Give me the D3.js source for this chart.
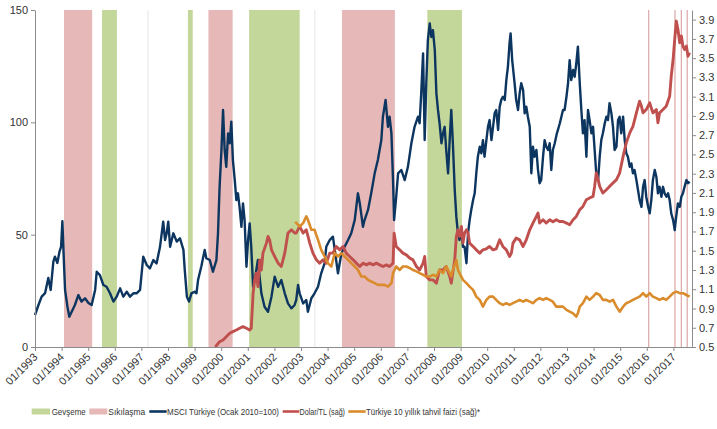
<!DOCTYPE html>
<html><head><meta charset="utf-8">
<script src="https://cdn.jsdelivr.net/npm/d3@7"></script>
<style>
body{margin:0;background:#fff}
svg{display:block}
text{font-family:"Liberation Sans",Arial,sans-serif}
</style>
</head><body>
<svg id="chart" width="717" height="429"></svg>
<script>
// ---------- DATA ----------
const yearTicks = [1993,1994,1995,1996,1997,1998,1999,2000,2001,2002,2003,2004,2005,2006,2007,2008,2009,2010,2011,2012,2013,2014,2015,2016,2017];
const xTickLabels = ["01/1993","01/1994","01/1995","01/1996","01/1997","01/1998","01/1999","01/2000","01/2001","01/2002","01/2003","01/2004","01/2005","01/2006","01/2007","01/2008","01/2009","01/2010","01/2011","01/2012","01/2013","01/2014","01/2015","01/2016","01/2017"];
const leftTicks = [0, 50, 100, 150];
const rightTicks = [0.5,0.7,0.9,1.1,1.3,1.5,1.7,1.9,2.1,2.3,2.5,2.7,2.9,3.1,3.3,3.5,3.7,3.9];

// policy periods (decimal years)
const easingStart = [1995.52, 1998.75, 2001.05, 2007.75];
const easingEnd   = [1996.08, 1998.93, 2002.95, 2009.05];
const tighteningStart = [1994.09, 1999.52, 2004.54];
const tighteningEnd   = [1995.15, 2000.43, 2006.53];
const tighteningSingle = [2016.07, 2017.06, 2017.30, 2017.52];
const minorMarks = [1997.25, 2003.52];

// MSCI Türkiye (Ocak 2010 = 100), left axis
const msciT = [1993.00,1993.13,1993.25,1993.38,1993.50,1993.59,1993.69,1993.75,1993.84,1993.92,1993.98,1994.03,1994.07,1994.13,1994.22,1994.29,1994.38,1994.50,1994.63,1994.75,1994.88,1995.01,1995.13,1995.26,1995.32,1995.44,1995.57,1995.69,1995.82,1995.95,1996.07,1996.20,1996.32,1996.45,1996.57,1996.70,1996.82,1996.95,1997.07,1997.20,1997.32,1997.45,1997.57,1997.70,1997.82,1997.89,1997.95,1998.01,1998.08,1998.20,1998.33,1998.45,1998.58,1998.63,1998.71,1998.79,1998.88,1999.00,1999.07,1999.13,1999.25,1999.38,1999.44,1999.57,1999.69,1999.82,1999.88,1999.94,2000.01,2000.07,2000.13,2000.19,2000.26,2000.32,2000.38,2000.44,2000.51,2000.57,2000.63,2000.69,2000.76,2000.82,2000.88,2000.95,2001.01,2001.07,2001.13,2001.20,2001.26,2001.38,2001.51,2001.63,2001.76,2001.89,2002.01,2002.14,2002.26,2002.39,2002.51,2002.64,2002.76,2002.82,2002.89,2002.95,2003.08,2003.20,2003.26,2003.39,2003.51,2003.64,2003.76,2003.89,2003.95,2004.08,2004.20,2004.27,2004.39,2004.52,2004.64,2004.77,2004.89,2005.02,2005.14,2005.21,2005.33,2005.39,2005.52,2005.64,2005.77,2005.89,2006.02,2006.08,2006.18,2006.27,2006.33,2006.40,2006.46,2006.50,2006.58,2006.65,2006.77,2006.90,2007.02,2007.15,2007.27,2007.40,2007.46,2007.52,2007.59,2007.65,2007.71,2007.77,2007.84,2007.90,2007.96,2008.03,2008.09,2008.15,2008.21,2008.28,2008.34,2008.40,2008.46,2008.53,2008.59,2008.65,2008.71,2008.78,2008.84,2008.90,2008.96,2009.03,2009.09,2009.15,2009.22,2009.28,2009.34,2009.40,2009.47,2009.53,2009.59,2009.65,2009.72,2009.78,2009.84,2009.90,2009.97,2010.03,2010.09,2010.16,2010.22,2010.28,2010.34,2010.41,2010.47,2010.53,2010.59,2010.66,2010.72,2010.78,2010.84,2010.88,2010.94,2011.03,2011.09,2011.16,2011.22,2011.28,2011.35,2011.41,2011.47,2011.53,2011.60,2011.66,2011.72,2011.78,2011.85,2011.91,2011.97,2012.03,2012.10,2012.16,2012.22,2012.29,2012.35,2012.41,2012.47,2012.54,2012.62,2012.66,2012.73,2012.79,2012.85,2012.91,2012.98,2013.04,2013.10,2013.16,2013.23,2013.29,2013.35,2013.41,2013.48,2013.54,2013.60,2013.66,2013.73,2013.79,2013.85,2013.92,2013.98,2014.04,2014.10,2014.17,2014.23,2014.29,2014.35,2014.42,2014.48,2014.54,2014.60,2014.67,2014.73,2014.79,2014.86,2014.92,2014.98,2015.04,2015.11,2015.17,2015.23,2015.29,2015.36,2015.42,2015.48,2015.54,2015.61,2015.67,2015.73,2015.80,2015.86,2015.92,2015.98,2016.05,2016.11,2016.17,2016.23,2016.30,2016.36,2016.42,2016.48,2016.55,2016.61,2016.67,2016.74,2016.80,2016.86,2016.92,2016.99,2017.05,2017.09,2017.17,2017.24,2017.30,2017.36,2017.42,2017.49,2017.55,2017.61];
const msciV = [14.2,18.7,22.4,24.0,30.7,25.4,38.0,40.2,37.4,42.4,44.6,56.0,43.0,25.4,17.9,13.5,15.7,18.7,23.1,20.2,21.7,19.6,18.7,25.4,33.5,32.0,27.6,26.8,23.9,20.2,22.4,26.1,22.4,24.6,22.4,23.9,23.9,25.4,40.2,36.5,35.0,38.7,37.2,44.6,55.8,47.6,50.6,55.8,44.6,50.6,46.9,48.4,43.2,34.3,22.4,20.2,23.9,24.6,23.9,29.8,35.7,43.2,39.5,38.7,33.5,38.7,50.6,71.3,87.7,105.5,87.7,80.2,95.1,90.7,100.3,83.2,74.3,65.4,68.4,62.4,53.5,63.9,56.5,35.7,47.6,55.0,44.6,26.8,29.8,38.7,23.9,17.9,15.7,22.4,31.3,26.8,29.8,23.9,19.4,17.2,18.7,20.9,27.6,23.9,19.4,20.9,15.7,21.7,23.9,26.8,32.8,37.3,44.6,47.6,49.1,43.2,32.8,41.7,44.6,47.6,50.6,56.5,68.4,64.0,53.5,56.5,61.0,68.4,77.3,83.2,92.1,102.5,110.0,98.0,102.5,95.1,74.3,56.5,66.9,77.3,78.8,74.3,80.2,90.7,98.0,102.5,99.6,112.9,130.7,92.1,117.4,136.6,144.0,138.0,141.0,132.2,112.9,105.5,99.6,90.7,95.1,98.0,87.7,77.3,92.1,105.5,90.7,69.9,58.0,50.6,47.6,52.0,44.6,44.6,37.3,50.6,56.5,61.0,65.4,68.4,77.3,84.7,89.2,86.2,92.1,84.7,92.1,98.0,101.0,92.1,98.0,104.0,105.5,96.6,107.0,110.0,111.4,110.0,118.8,124.8,135.2,139.6,127.7,117.4,110.0,105.5,112.9,117.4,114.4,104.0,107.0,102.5,98.0,77.3,89.2,84.7,87.7,78.8,72.9,74.3,84.7,92.1,89.2,87.7,90.7,78.8,87.7,90.7,95.1,96.6,99.6,102.5,105.5,105.5,111.4,117.4,127.7,118.8,123.3,120.3,126.3,133.7,117.4,105.5,95.1,101.0,84.7,105.5,101.0,95.1,98.0,87.7,77.3,74.3,84.7,92.1,95.1,99.6,102.5,101.0,108.5,104.0,98.0,87.7,89.2,101.0,102.5,95.1,102.5,92.1,86.2,84.7,80.2,81.7,77.3,78.8,74.3,69.9,65.4,62.4,71.3,74.3,66.9,62.4,59.5,65.4,74.3,78.8,75.8,68.4,71.3,66.9,71.3,68.4,66.9,68.4,65.4,59.5,56.5,52.0,56.5,63.9,62.4,66.9,68.4,71.3,74.3,72.9,73.6];

// Dolar/TL (right axis)
const usdT = [1999.78,1999.94,2000.07,2000.19,2000.32,2000.44,2000.57,2000.69,2000.82,2000.95,2001.07,2001.13,2001.20,2001.26,2001.32,2001.38,2001.45,2001.51,2001.57,2001.70,2001.76,2001.82,2001.89,2002.01,2002.14,2002.26,2002.39,2002.51,2002.64,2002.76,2002.82,2002.95,2003.08,2003.20,2003.33,2003.45,2003.58,2003.70,2003.83,2003.95,2004.08,2004.20,2004.33,2004.45,2004.58,2004.70,2004.83,2004.96,2005.08,2005.21,2005.33,2005.46,2005.58,2005.71,2005.83,2005.96,2006.08,2006.21,2006.33,2006.46,2006.50,2006.58,2006.71,2006.83,2006.96,2007.09,2007.21,2007.34,2007.46,2007.59,2007.65,2007.71,2007.84,2007.96,2008.09,2008.21,2008.34,2008.46,2008.59,2008.65,2008.78,2008.84,2008.90,2008.96,2009.03,2009.09,2009.15,2009.22,2009.28,2009.34,2009.47,2009.59,2009.72,2009.84,2009.97,2010.09,2010.22,2010.34,2010.47,2010.59,2010.72,2010.84,2010.91,2010.97,2011.09,2011.22,2011.35,2011.47,2011.60,2011.72,2011.85,2011.91,2011.97,2012.10,2012.22,2012.35,2012.47,2012.60,2012.72,2012.85,2012.98,2013.10,2013.23,2013.35,2013.48,2013.60,2013.73,2013.85,2013.98,2014.04,2014.10,2014.17,2014.23,2014.35,2014.48,2014.60,2014.73,2014.86,2014.98,2015.11,2015.23,2015.36,2015.48,2015.61,2015.73,2015.80,2015.86,2015.98,2016.11,2016.23,2016.36,2016.42,2016.48,2016.61,2016.73,2016.86,2016.92,2016.99,2017.05,2017.11,2017.17,2017.24,2017.30,2017.36,2017.42,2017.49,2017.55,2017.61];
const usdV = [0.50,0.555,0.573,0.607,0.643,0.66,0.677,0.695,0.711,0.695,0.677,0.695,1.06,1.197,1.267,1.127,1.405,1.30,1.475,1.579,1.648,1.613,1.509,1.44,1.371,1.336,1.475,1.683,1.717,1.683,1.683,1.752,1.683,1.717,1.579,1.475,1.405,1.371,1.405,1.371,1.475,1.475,1.544,1.509,1.544,1.475,1.44,1.405,1.371,1.336,1.371,1.353,1.371,1.353,1.371,1.353,1.336,1.353,1.336,1.371,1.683,1.544,1.509,1.475,1.457,1.423,1.405,1.336,1.30,1.371,1.44,1.232,1.197,1.197,1.163,1.30,1.30,1.336,1.232,1.163,1.405,1.648,1.717,1.648,1.752,1.579,1.683,1.717,1.683,1.579,1.544,1.509,1.475,1.509,1.52,1.544,1.509,1.52,1.613,1.544,1.509,1.44,1.475,1.579,1.631,1.613,1.544,1.613,1.717,1.787,1.856,1.891,1.787,1.822,1.787,1.822,1.80,1.822,1.804,1.804,1.787,1.77,1.822,1.856,1.926,1.96,2.03,2.047,2.064,2.168,2.307,2.238,2.168,2.099,2.134,2.168,2.203,2.238,2.307,2.48,2.62,2.724,2.792,2.932,3.053,3.0,2.932,2.966,3.036,2.932,2.966,2.828,2.932,2.966,3.0,3.105,3.313,3.486,3.695,3.885,3.80,3.66,3.73,3.625,3.59,3.625,3.52,3.556];

// Türkiye 10 yıllık tahvil faizi (right axis)
const bondT = [2002.78,2002.95,2003.08,2003.20,2003.26,2003.39,2003.51,2003.64,2003.76,2003.89,2004.01,2004.14,2004.27,2004.39,2004.52,2004.64,2004.77,2004.89,2005.02,2005.14,2005.27,2005.39,2005.52,2005.64,2005.77,2005.89,2006.02,2006.14,2006.27,2006.40,2006.46,2006.58,2006.71,2006.83,2006.96,2007.09,2007.21,2007.34,2007.46,2007.59,2007.71,2007.84,2007.96,2008.09,2008.21,2008.34,2008.46,2008.59,2008.65,2008.71,2008.84,2008.90,2008.96,2009.09,2009.22,2009.34,2009.47,2009.59,2009.72,2009.84,2009.97,2010.09,2010.22,2010.34,2010.47,2010.59,2010.72,2010.84,2010.97,2011.09,2011.22,2011.35,2011.47,2011.60,2011.72,2011.85,2011.97,2012.10,2012.22,2012.35,2012.47,2012.60,2012.72,2012.85,2012.98,2013.10,2013.23,2013.35,2013.41,2013.48,2013.60,2013.73,2013.85,2013.98,2014.10,2014.23,2014.35,2014.48,2014.60,2014.73,2014.86,2014.98,2015.11,2015.23,2015.36,2015.48,2015.61,2015.73,2015.86,2015.98,2016.11,2016.23,2016.36,2016.48,2016.61,2016.73,2016.86,2016.99,2017.11,2017.24,2017.36,2017.49,2017.61];
const bondV = [1.80,1.752,1.787,1.856,1.822,1.717,1.717,1.613,1.509,1.44,1.371,1.336,1.475,1.44,1.475,1.44,1.405,1.371,1.336,1.30,1.232,1.232,1.197,1.18,1.163,1.145,1.145,1.145,1.127,1.163,1.267,1.336,1.30,1.336,1.336,1.32,1.30,1.285,1.267,1.25,1.232,1.232,1.25,1.232,1.30,1.267,1.336,1.267,1.232,1.30,1.405,1.30,1.267,1.197,1.163,1.127,1.093,1.023,0.989,0.919,0.989,1.023,1.023,0.989,0.955,0.937,0.955,0.937,0.955,0.971,0.989,0.971,0.989,0.971,0.955,0.989,1.007,0.989,1.007,0.989,0.971,0.919,0.919,0.919,0.885,0.867,0.85,0.815,0.85,0.92,0.955,1.023,0.989,1.023,1.059,1.04,0.989,0.989,0.971,0.989,0.919,0.867,0.919,0.955,0.971,0.989,1.007,1.023,1.059,1.023,1.059,1.023,1.007,0.989,1.007,0.989,1.023,1.059,1.075,1.059,1.059,1.04,1.023];

// legend labels
const legendLabels = ["Gevşeme","Sıkılaşma","MSCI Türkiye (Ocak 2010=100)","Dolar/TL (sağ)","Türkiye 10 yıllık tahvil faizi (sağ)*"];

// ---------- CHART ----------
const C = {green:"#c4d79b", pink:"#e6b9b8", navy:"#0c355f", red:"#c0504d", orange:"#da8b2b", axis:"#8c8c8c", text:"#333333"};
const svg = d3.select("#chart");
const x = d3.scaleLinear().domain([1993, 2017.70]).range([35, 692]);
const yL = d3.scaleLinear().domain([0, 150]).range([347, 10]);
const yR = d3.scaleLinear().domain([0.5, 4.0]).range([347, 10]);

const bands = svg.append("g");
bands.selectAll("line.minor").data(minorMarks).join("line")
  .attr("x1", d => x(d)).attr("x2", d => x(d)).attr("y1", 10).attr("y2", 347)
  .attr("stroke", "#ebe4e4").attr("stroke-width", 1);
bands.selectAll("rect.e").data(easingStart).join("rect").attr("class","e")
  .attr("x", d => x(d)).attr("width", (d,i) => x(easingEnd[i]) - x(d))
  .attr("y", 10).attr("height", 337).attr("fill", C.green);
bands.selectAll("rect.t").data(tighteningStart).join("rect").attr("class","t")
  .attr("x", d => x(d)).attr("width", (d,i) => x(tighteningEnd[i]) - x(d))
  .attr("y", 10).attr("height", 337).attr("fill", C.pink);
bands.selectAll("line.ts").data(tighteningSingle).join("line").attr("class","ts")
  .attr("x1", d => x(d)).attr("x2", d => x(d)).attr("y1", 10).attr("y2", 347)
  .attr("stroke", "#deadad").attr("stroke-width", 1.3);

function drawLine(ts, vs, yScale, color, w) {
  const pts = ts.map((t, i) => [t, vs[i]]);
  svg.append("path").datum(pts)
    .attr("d", d3.line().x(d => x(d[0])).y(d => yScale(d[1])))
    .attr("fill", "none").attr("stroke", color).attr("stroke-width", w)
    .attr("stroke-linejoin", "round");
}
drawLine(msciT, msciV, yL, C.navy, 2.4);
drawLine(usdT, usdV, yR, C.red, 2.9);
drawLine(bondT, bondV, yR, C.orange, 2.6);

function styleAxis(g) {
  g.select(".domain").attr("stroke", C.axis);
  g.selectAll(".tick line").attr("stroke", C.axis);
  g.selectAll(".tick text").attr("fill", C.text).attr("font-size", "11px")
    .attr("font-family", "'Liberation Sans', Arial, sans-serif");
}
const gx = svg.append("g").attr("transform", "translate(0,347)")
  .call(d3.axisBottom(x).tickValues(yearTicks).tickFormat((d, i) => xTickLabels[i]).tickSize(4).tickSizeOuter(0));
styleAxis(gx);
gx.selectAll(".tick text").attr("text-anchor", "end").attr("dy", "0.35em")
  .attr("transform", "translate(0,8) rotate(-45)").attr("y", 0).attr("x", 0);

const gl = svg.append("g").attr("transform", "translate(35,0)")
  .call(d3.axisLeft(yL).tickValues(leftTicks).tickSize(4).tickSizeOuter(0));
styleAxis(gl);
const gr = svg.append("g").attr("transform", "translate(692,0)")
  .call(d3.axisRight(yR).tickValues(rightTicks).tickFormat(d3.format(".1f")).tickSize(4).tickSizeOuter(0));
styleAxis(gr);

// legend
const lg = svg.append("g");
const lgY = 411.5;
const items = [
  {type:"rect", color:C.green, x0:31.7, x1:50, tx:51.7, tw:34},
  {type:"rect", color:C.pink, x0:89.3, x1:107.3, tx:108.3, tw:37},
  {type:"line", color:C.navy, x0:149.3, x1:166.7, tx:167, tw:112},
  {type:"line", color:C.red, x0:282.7, x1:299.3, tx:299.5, tw:45.5},
  {type:"line", color:C.orange, x0:348.3, x1:365.7, tx:366, tw:114}
];
items.forEach((it, i) => {
  if (it.type === "rect") {
    lg.append("rect").attr("x", it.x0).attr("y", lgY - 3).attr("width", it.x1 - it.x0).attr("height", 6).attr("fill", it.color);
  } else {
    lg.append("line").attr("x1", it.x0).attr("x2", it.x1).attr("y1", lgY).attr("y2", lgY)
      .attr("stroke", it.color).attr("stroke-width", 2.6);
  }
  lg.append("text").attr("x", it.tx).attr("y", lgY + 3.4).text(legendLabels[i])
    .attr("font-size", "9px").attr("fill", C.text)
    .attr("textLength", it.tw).attr("lengthAdjust", "spacingAndGlyphs");
});
</script>
</body></html>
